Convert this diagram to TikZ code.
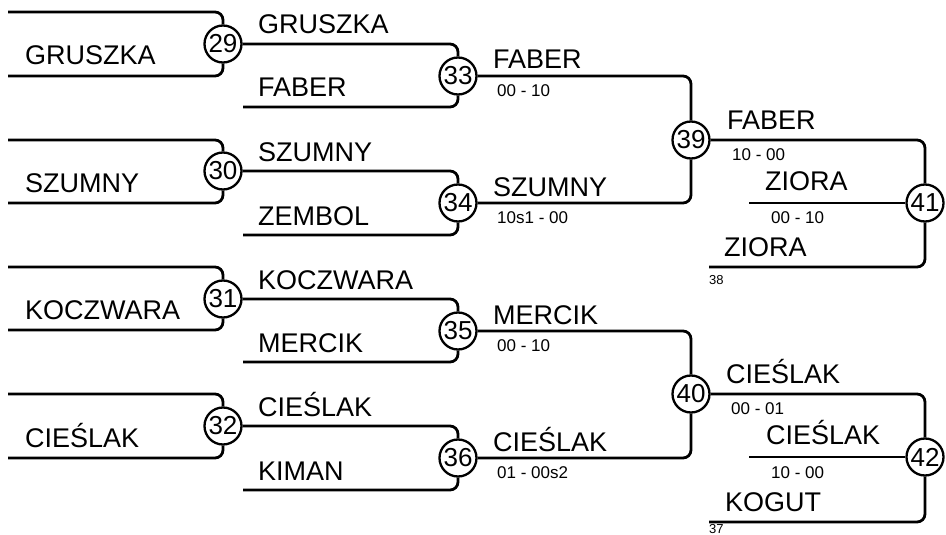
\documentclass[tikz,border=0pt]{standalone}
\usepackage{fontspec}
\setmainfont{Liberation Sans}
\begin{document}
\begin{tikzpicture}
	[x=1pt,y=-1pt,
	 link/.style={line width=2.8pt,rounded corners=8pt},
	 bout/.style={circle,draw,line width=2.3pt,minimum size=37pt,inner sep=0pt,fill=white,font=\fontsize{26}{26}\selectfont},
	 player/.style={anchor=base west,inner sep=0pt,font=\fontsize{27}{27}\selectfont},
	 score/.style={anchor=north west,inner sep=0pt,font=\fontsize{17}{17}\selectfont},
	 seed/.style={anchor=north west,inner sep=0pt,font=\fontsize{13}{13}\selectfont}]
	\useasboundingbox (0,0) rectangle (946,535);
	% first round
	\node (B29) [bout] at (223,44) {29};
	\node (B30) [bout] at (223,171) {30};
	\node (B31) [bout] at (223,299) {31};
	\node (B32) [bout] at (223,426) {32};
	\coordinate (In29a) at (8,12);  \coordinate (In29b) at (8,76);
	\coordinate (In30a) at (8,140); \coordinate (In30b) at (8,203);
	\coordinate (In31a) at (8,267); \coordinate (In31b) at (8,330);
	\coordinate (In32a) at (8,394); \coordinate (In32b) at (8,458);
	\draw[link] (In29a) -| (B29.north); \draw[link] (In29b) -| (B29.south);
	\draw[link] (In30a) -| (B30.north); \draw[link] (In30b) -| (B30.south);
	\draw[link] (In31a) -| (B31.north); \draw[link] (In31b) -| (B31.south);
	\draw[link] (In32a) -| (B32.north); \draw[link] (In32b) -| (B32.south);
	\node (Gruszka1) [player] at (25,65) {GRUSZKA};
	\node (Szumny1) [player] at (25,192) {SZUMNY};
	\node (Koczwara1) [player] at (25,319) {KOCZWARA};
	\node (Cieslak1) [player] at (25,447) {CIEŚLAK};
	% second round
	\node (B33) [bout] at (458,76) {33};
	\node (B34) [bout] at (458,203) {34};
	\node (B35) [bout] at (458,331) {35};
	\node (B36) [bout] at (458,458) {36};
	\coordinate (In33) at (243,107); \coordinate (In34) at (243,235);
	\coordinate (In35) at (243,362); \coordinate (In36) at (243,490);
	\draw[link] (B29.east) -| (B33.north); \draw[link] (In33) -| (B33.south);
	\draw[link] (B30.east) -| (B34.north); \draw[link] (In34) -| (B34.south);
	\draw[link] (B31.east) -| (B35.north); \draw[link] (In35) -| (B35.south);
	\draw[link] (B32.east) -| (B36.north); \draw[link] (In36) -| (B36.south);
	\node (Gruszka2) [player] at (258,34) {GRUSZKA};
	\node (Faber2) [player] at (258,97) {FABER};
	\node (Szumny2) [player] at (258,161) {SZUMNY};
	\node (Zembol2) [player] at (258,225) {ZEMBOL};
	\node (Koczwara2) [player] at (258,289) {KOCZWARA};
	\node (Mercik2) [player] at (258,352) {MERCIK};
	\node (Cieslak2) [player] at (258,416) {CIEŚLAK};
	\node (Kiman2) [player] at (258,480) {KIMAN};
	% third round
	\node (B39) [bout] at (691,140) {39};
	\node (B40) [bout] at (691,394) {40};
	\draw[link] (B33.east) -| (B39.north); \draw[link] (B34.east) -| (B39.south);
	\draw[link] (B35.east) -| (B40.north); \draw[link] (B36.east) -| (B40.south);
	\node (Faber3) [player] at (493,69) {FABER};
	\node (Szumny3) [player] at (493,196) {SZUMNY};
	\node (Mercik3) [player] at (493,324) {MERCIK};
	\node (Cieslak3) [player] at (493,451) {CIEŚLAK};
	\node (Score33) [score] at (497,84) {00 - 10};
	\node (Score34) [score] at (497,211) {10s1 - 00};
	\node (Score35) [score] at (497,339) {00 - 10};
	\node (Score36) [score] at (497,466) {01 - 00s2};
	% repechage
	\node (B41) [bout] at (925,203) {41};
	\node (B42) [bout] at (925,457) {42};
	\coordinate (Rep41a) at (749,203); \coordinate (Rep41b) at (709,267);
	\coordinate (Rep42a) at (749,457); \coordinate (Rep42b) at (709,522);
	\draw[link] (B39.east) -| (B41.north); \draw[link] (Rep41a) -- (B41.west);
	\draw[link] (Rep41b) -| (B41.south);
	\draw[link] (B40.east) -| (B42.north); \draw[link] (Rep42a) -- (B42.west);
	\draw[link] (Rep42b) -| (B42.south);
	\node (Faber4) [player] at (727,129) {FABER};
	\node (Score39) [score] at (732,148) {10 - 00};
	\node (Ziora4a) [player] at (765,190) {ZIORA};
	\node (Score41) [score] at (771,211) {00 - 10};
	\node (Ziora4b) [player] at (724,256) {ZIORA};
	\node (From38) [seed] at (709,275) {38};
	\node (Cieslak4a) [player] at (726,383) {CIEŚLAK};
	\node (Score40) [score] at (731,402) {00 - 01};
	\node (Cieslak4b) [player] at (766,444) {CIEŚLAK};
	\node (Score42) [score] at (771,466) {10 - 00};
	\node (Kogut4) [player] at (725,511) {KOGUT};
	\node (From37) [seed] at (709,524.5) {37};
\end{tikzpicture}
\end{document}
